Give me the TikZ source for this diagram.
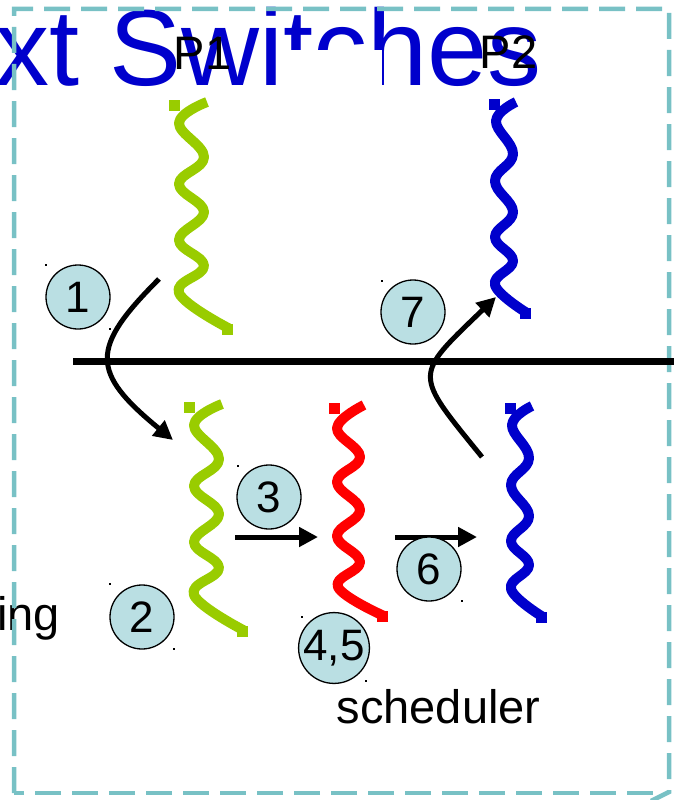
\documentclass[tikz,border=0pt]{standalone}
\usepackage{fontspec}
\setmainfont{Liberation Sans}
\usetikzlibrary{arrows.meta}
\definecolor{tealb}{HTML}{78C1C5}
\definecolor{circfill}{HTML}{BADFE3}
\definecolor{tgreen}{HTML}{99CC00}
\definecolor{tred}{HTML}{FF0000}
\definecolor{tblue}{HTML}{0000CC}
\begin{document}
\begin{tikzpicture}[x=1pt,y=-1pt,
  thread/.style={line width=10pt, line cap=butt, line join=round},
  num/.style={circle, draw=black, line width=1.3pt, fill=circfill, minimum size=64pt, inner sep=0pt, font=\fontsize{44}{44}\selectfont},
  lbl/.style={inner sep=0pt, anchor=base west, font=\fontsize{47}{47}\selectfont},
  arr/.style={line width=5pt, -{Triangle[length=19pt,width=19pt]}},
  tinydot/.style={fill=black, minimum size=2pt, inner sep=0pt, rectangle},
  border/.style={tealb, line width=4.5pt, dash pattern=on 26pt off 11pt}
]
\useasboundingbox (0,0) rectangle (674,800);
% title (partly hidden)
\node[anchor=base west, inner sep=0pt, text=tblue, font=\fontsize{108}{108}\selectfont] (title) at (-5,85) {xt Switches};
\fill[white] (280,50) rectangle (382,97);
% left label
\node[lbl] (ing) at (-3,630) {ing};
% dashed frame
\draw[border] (14,793) -- (14,9) -- (669,9) -- (669,792) -- (651,801);
\draw[border] (653,793) -- (14,793);
% labels
\node[lbl] (p1) at (173.5,70) {P1};
\node[lbl] (p2) at (479.5,68) {P2};
\node[lbl] (sched) at (336.5,723) {scheduler};
% kernel boundary line
\coordinate (hl1) at (73,361);
\coordinate (hl2) at (674,361);
\draw[line width=7pt] (hl1) -- (hl2);
% P1 thread (top, green)
\draw[thread, tgreen] plot[smooth, tension=0.7] coordinates {(207,102) (179,123) (204,157) (179,184) (204,212) (179,240) (204,266) (179,293) (230,329)};
\fill[tgreen] (168.5,99.5) rectangle +(11,11);
\fill[tgreen] (222,323.5) rectangle +(11,11);
% P1 thread (bottom, green)
\begin{scope}[shift={(15,302)}]
\draw[thread, tgreen] plot[smooth, tension=0.7] coordinates {(207,102) (179,123) (204,157) (179,184) (204,212) (179,240) (204,266) (179,293) (230,329)};
\fill[tgreen] (168.5,99.5) rectangle +(11,11);
\fill[tgreen] (222,323.5) rectangle +(11,11);
\end{scope}
% P2 thread (top, blue)
\draw[thread, tblue] plot[smooth, tension=0.7] coordinates {(516,102) (496,121) (513,154) (495,181) (513,212) (495,237) (513,261) (495,285) (527,313)};
\fill[tblue] (488.5,98.5) rectangle +(11,11);
\fill[tblue] (520,307.5) rectangle +(11,11);
% P2 thread (bottom, blue)
\begin{scope}[shift={(16,304)}]
\draw[thread, tblue] plot[smooth, tension=0.7] coordinates {(516,102) (496,121) (513,154) (495,181) (513,212) (495,237) (513,261) (495,285) (527,313)};
\fill[tblue] (488.5,98.5) rectangle +(11,11);
\fill[tblue] (520,307.5) rectangle +(11,11);
\end{scope}
% scheduler thread (red)
\draw[thread, tred] plot[smooth, tension=0.7] coordinates {(364,405) (337,428) (360,457) (337,482) (360,510) (337,536) (360,562) (338,587) (384,616)};
\fill[tred] (328.5,402.5) rectangle +(11,11);
\fill[tred] (377,610.5) rectangle +(11,11);
% arrows
\coordinate (a1s) at (159,279);
\coordinate (a1e) at (173,440);
\coordinate (a7s) at (482,457);
\coordinate (a7e) at (496,297);
\coordinate (a3s) at (235,537);
\coordinate (a3e) at (318,537);
\coordinate (a6s) at (395,537);
\coordinate (a6e) at (477,537);
\draw[arr] (a1s) .. controls (90,348) and (90,372) .. (a1e);
\draw[arr] (a7s) .. controls (413,372) and (413,377) .. (a7e);
\draw[arr] (a3s) -- (a3e);
\draw[arr] (a6s) -- (a6e);
% numbered circles
\node[num] (c1) at (78,297) {1};
\node[num] (c7) at (413,312) {7};
\node[num] (c3) at (269,497) {3};
\node[num] (c6) at (429,569) {6};
\node[num] (c2) at (142,617) {2};
\node[num] (c45) at (334,648) {4,5};
% tiny corner marks
\node[tinydot] (d1) at (46,265) {};
\node[tinydot] (d2) at (110,329) {};
\node[tinydot] (d3) at (382,281) {};
\node[tinydot] (d4) at (238,466) {};
\node[tinydot] (d5) at (462,601) {};
\node[tinydot] (d6) at (110,584) {};
\node[tinydot] (d7) at (174,649) {};
\node[tinydot] (d8) at (302,617) {};
\node[tinydot] (d9) at (366,681) {};
\end{tikzpicture}
\end{document}
